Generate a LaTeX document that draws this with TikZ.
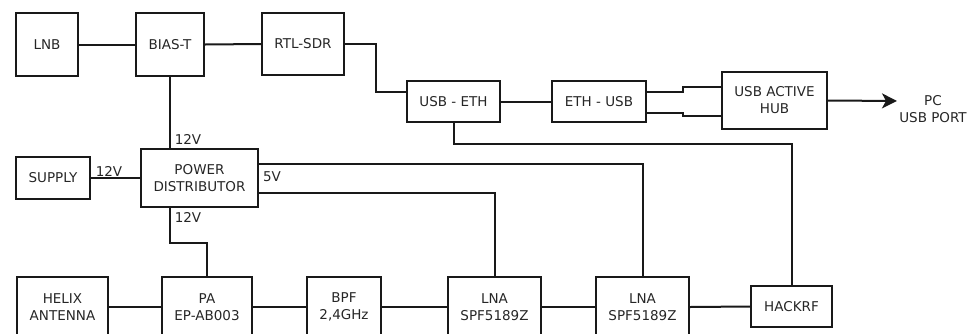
\documentclass[tikz,border=0pt]{standalone}
\usepackage{fontspec}
\setmainfont{DejaVu Sans}
\usetikzlibrary{arrows.meta}
\begin{document}
\begin{tikzpicture}[x=1pt,y=-1pt,
  every node/.style={font=\fontsize{13.5}{17}\selectfont, text=black!85, align=center, inner sep=0pt},
  blk/.style={draw=black!90, line width=2pt},
  wire/.style={line width=2pt, draw=black!90},
  lbl/.style={font=\fontsize{13.5}{15}\selectfont, text=black!85}]
\useasboundingbox (0,0) rectangle (970,333);
\clip (0,0) rectangle (970,333);
% top row
\node[blk, minimum width=62pt, minimum height=63pt] (lnb) at (47,44.5) {LNB};
\node[blk, minimum width=68pt, minimum height=63pt] (biast) at (170,44.5) {BIAS-T};
\node[blk, minimum width=82pt, minimum height=62pt] (rtl) at (303,44) {RTL-SDR};
\node[blk, minimum width=93pt, minimum height=41pt] (usbeth) at (453.5,101.5) {USB - ETH};
\node[blk, minimum width=94pt, minimum height=41pt] (ethusb) at (599,101.5) {ETH - USB};
\node[blk, minimum width=105pt, minimum height=57pt] (hub) at (774.5,100.5) {USB ACTIVE\\HUB};
\node (pc) at (933,109) {PC\\USB PORT};
\coordinate (pcin) at (897,101);
% middle
\node[blk, minimum width=74pt, minimum height=42pt] (supply) at (53,178) {SUPPLY};
\node[blk, minimum width=117pt, minimum height=58pt] (power) at (199.5,178) {POWER\\DISTRIBUTOR};
% bottom row
\node[blk, minimum width=91pt, minimum height=60pt] (helix) at (62.5,307) {HELIX\\ANTENNA};
\node[blk, minimum width=90pt, minimum height=60pt] (pa) at (207,307) {PA\\EP-AB003};
\node[blk, minimum width=74pt, minimum height=60pt] (bpf) at (344,307) {BPF\\2,4GHz};
\node[blk, minimum width=93pt, minimum height=60pt] (lnaa) at (494.5,307) {LNA\\SPF5189Z};
\node[blk, minimum width=93pt, minimum height=60pt] (lnab) at (642.5,307) {LNA\\SPF5189Z};
\node[blk, minimum width=81pt, minimum height=41pt] (hackrf) at (791.5,306.5) {HACKRF};
% connectors top
\draw[wire] (lnb.east) -- (biast.west);
\draw[wire] (biast.east) -- (rtl.west);
\draw[wire] (rtl.east) -- (376,44) |- ([yshift=9.5pt]usbeth.west);
\draw[wire] (usbeth.east) -- (ethusb.west);
\draw[wire] ([yshift=9.5pt]ethusb.east) -- (683,92) -- (683,87) -- ([yshift=13.5pt]hub.west);
\draw[wire] ([yshift=-11.5pt]ethusb.east) -- (683,113) -- (683,116) -- ([yshift=-15.5pt]hub.west);
\draw[wire, -{Stealth[length=15pt,width=15pt,inset=4pt]}] (hub.east) -- (pcin);
\draw[wire] (usbeth.south) -- (usbeth.south |- 0,144) -| (hackrf.north);
% power
\draw[wire] (biast.south) -- (biast.south |- power.north);
\draw[wire] (supply.east) -- (power.west);
\draw[wire] (biast.south |- power.south) -- (170,243) -| (pa.north);
\draw[wire] ([yshift=14pt]power.east) -| (lnab.north);
\draw[wire] ([yshift=-15pt]power.east) -| (lnaa.north);
\node[lbl] (v1) at (188,139) {12V};
\node[lbl] (v2) at (109,171) {12V};
\node[lbl] (v3) at (188,217) {12V};
\node[lbl] (v4) at (272,177) {5V};
% bottom connectors
\draw[wire] (helix.east) -- (pa.west);
\draw[wire] (pa.east) -- (bpf.west);
\draw[wire] (bpf.east) -- (lnaa.west);
\draw[wire] (lnaa.east) -- (lnab.west);
\draw[wire] (lnab.east) -- (hackrf.west);
\end{tikzpicture}
\end{document}
